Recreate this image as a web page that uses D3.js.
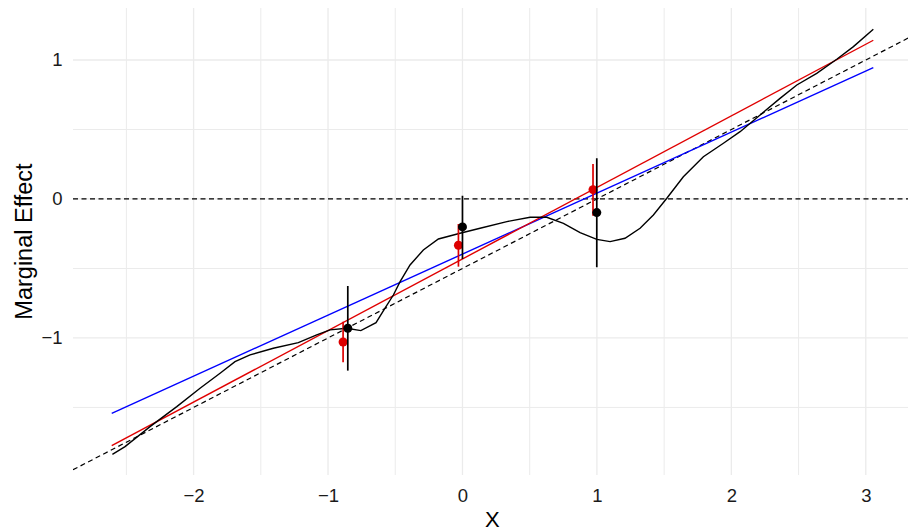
<!DOCTYPE html>
<html>
<head>
<meta charset="utf-8">
<script src="https://cdn.jsdelivr.net/npm/d3@7"></script>
<style>
  html, body { margin: 0; padding: 0; background: #fff; }
  svg { display: block; font-family: "Liberation Sans", Arial, Helvetica, sans-serif; }
</style>
</head>
<body>
<svg id="chart" width="908" height="531"></svg>
<script>
// ---- data ----
const xTicks = [-2, -1, 0, 1, 2, 3];
const yTicks = [-1, 0, 1];
const xMinor = [-2.5, -1.5, -0.5, 0.5, 1.5, 2.5];
const yMinor = [-1.5, -0.5, 0.5];

// smooth (black) curve
const smoothX = [-2.604, -2.510, -2.324, -2.125, -1.952, -1.803, -1.692, -1.580, -1.407, -1.221,
  -1.084, -0.985, -0.861, -0.756, -0.643, -0.576, -0.514, -0.464, -0.390, -0.291, -0.179, -0.018,
  0.131, 0.330, 0.503, 0.627, 0.751, 0.875, 0.999, 1.098, 1.209, 1.321, 1.420, 1.520, 1.643,
  1.792, 1.941, 2.065, 2.214, 2.362, 2.487, 2.635, 2.784, 2.908, 3.056];
const smoothY = [-1.837, -1.782, -1.638, -1.494, -1.362, -1.254, -1.171, -1.122, -1.074, -1.034,
  -0.978, -0.942, -0.930, -0.947, -0.890, -0.786, -0.691, -0.595, -0.475, -0.367, -0.288, -0.247,
  -0.211, -0.163, -0.132, -0.132, -0.175, -0.242, -0.291, -0.307, -0.283, -0.211, -0.115, 0.005, 0.160,
  0.304, 0.401, 0.484, 0.604, 0.724, 0.820, 0.904, 1.005, 1.096, 1.221];

// linear fits (red, blue): endpoints
const fitX = [-2.609, 3.056];
const redFitY = [-1.775, 1.142];
const blueFitY = [-1.542, 0.945];

// reference (true) line: y = intercept + slope * x
const refIntercept = -0.5;
const refSlope = 0.5;

// binned estimates (black)
const binX = [-0.853, 0.0, 0.999];
const binY = [-0.930, -0.201, -0.098];
const binLo = [-1.235, -0.432, -0.491];
const binHi = [-0.626, 0.024, 0.293];

// binned estimates (red)
const redX = [-0.888, -0.030, 0.971];
const redY = [-1.029, -0.333, 0.067];
const redLo = [-1.175, -0.487, -0.120];
const redHi = [-0.883, -0.180, 0.252];

// ---- chart ----
const svg = d3.select("#chart");
const L = 73, R = 911.5, T = 8, B = 475;
const x = d3.scaleLinear().domain([-2.897, 3.34]).range([L, R]);
const y = d3.scaleLinear().domain([-1.986, 1.374]).range([B, T]);

const grid = svg.append("g");
grid.selectAll(".vmin").data(xMinor).join("line")
  .attr("x1", d => x(d)).attr("x2", d => x(d)).attr("y1", T).attr("y2", B)
  .attr("stroke", "#ebebeb").attr("stroke-width", 1);
grid.selectAll(".hmin").data(yMinor).join("line")
  .attr("x1", L).attr("x2", R).attr("y1", d => y(d)).attr("y2", d => y(d))
  .attr("stroke", "#ebebeb").attr("stroke-width", 1);
grid.selectAll(".vmaj").data(xTicks).join("line")
  .attr("x1", d => x(d)).attr("x2", d => x(d)).attr("y1", T).attr("y2", B)
  .attr("stroke", "#ebebeb").attr("stroke-width", 1.3);
grid.selectAll(".hmaj").data(yTicks).join("line")
  .attr("x1", L).attr("x2", R).attr("y1", d => y(d)).attr("y2", d => y(d))
  .attr("stroke", "#ebebeb").attr("stroke-width", 1.3);

// axes
const xAxis = svg.append("g").attr("transform", `translate(0,${B})`)
  .call(d3.axisBottom(x).tickValues(xTicks).tickSize(0).tickPadding(14)
    .tickFormat(d => d < 0 ? "\u2212" + Math.abs(d) : String(d)));
xAxis.select(".domain").remove();
xAxis.selectAll("text").attr("font-size", 18.5).attr("fill", "#1a1a1a")
  .style("font-family", "'Liberation Sans', Arial, sans-serif");

const yAxis = svg.append("g").attr("transform", `translate(${L},0)`)
  .call(d3.axisLeft(y).tickValues(yTicks).tickSize(0).tickPadding(10.5)
    .tickFormat(d => d < 0 ? "\u2212" + Math.abs(d) : String(d)));
yAxis.select(".domain").remove();
yAxis.selectAll("text").attr("font-size", 18.5).attr("fill", "#1a1a1a")
  .style("font-family", "'Liberation Sans', Arial, sans-serif");

// clip
svg.append("clipPath").attr("id", "clip").append("rect")
  .attr("x", L).attr("y", T).attr("width", R - L).attr("height", B - T);
const plot = svg.append("g").attr("clip-path", "url(#clip)");

// zero line
plot.append("line").attr("x1", L).attr("x2", R).attr("y1", y(0)).attr("y2", y(0))
  .attr("stroke", "#000").attr("stroke-width", 1.2).attr("stroke-dasharray", "5,3.5");

// reference abline
const xd = x.domain();
plot.append("line")
  .attr("x1", x(xd[0])).attr("y1", y(refIntercept + refSlope * xd[0]))
  .attr("x2", x(xd[1])).attr("y2", y(refIntercept + refSlope * xd[1]))
  .attr("stroke", "#000").attr("stroke-width", 1.2).attr("stroke-dasharray", "5,3.5");

const line = d3.line().x(d => x(d[0])).y(d => y(d[1]));

plot.append("path").datum(fitX.map((v, i) => [v, blueFitY[i]])).attr("d", line)
  .attr("fill", "none").attr("stroke", "#0000ff").attr("stroke-width", 1.4);
plot.append("path").datum(fitX.map((v, i) => [v, redFitY[i]])).attr("d", line)
  .attr("fill", "none").attr("stroke", "#e00000").attr("stroke-width", 1.4);
plot.append("path").datum(smoothX.map((v, i) => [v, smoothY[i]])).attr("d", line)
  .attr("fill", "none").attr("stroke", "#000").attr("stroke-width", 1.4);

// red estimates
plot.selectAll(".rbar").data(redX).join("line")
  .attr("x1", d => x(d)).attr("x2", d => x(d))
  .attr("y1", (d, i) => y(redLo[i])).attr("y2", (d, i) => y(redHi[i]))
  .attr("stroke", "#dd0000").attr("stroke-width", 1.7);
plot.selectAll(".rpt").data(redX).join("circle")
  .attr("cx", d => x(d)).attr("cy", (d, i) => y(redY[i])).attr("r", 4.5)
  .attr("fill", "#dd0000");

// black estimates
plot.selectAll(".bbar").data(binX).join("line")
  .attr("x1", d => x(d)).attr("x2", d => x(d))
  .attr("y1", (d, i) => y(binLo[i])).attr("y2", (d, i) => y(binHi[i]))
  .attr("stroke", "#000").attr("stroke-width", 1.7);
plot.selectAll(".bpt").data(binX).join("circle")
  .attr("cx", d => x(d)).attr("cy", (d, i) => y(binY[i])).attr("r", 4.5)
  .attr("fill", "#000");

// axis titles
svg.append("text").attr("x", (L + R) / 2).attr("y", 527).attr("text-anchor", "middle")
  .attr("font-size", 22).attr("fill", "#000").text("X");
svg.append("text").attr("transform", `translate(32,${(T + B) / 2}) rotate(-90)`)
  .attr("text-anchor", "middle").attr("font-size", 23.5).attr("fill", "#000").text("Marginal Effect");
</script>
</body>
</html>
